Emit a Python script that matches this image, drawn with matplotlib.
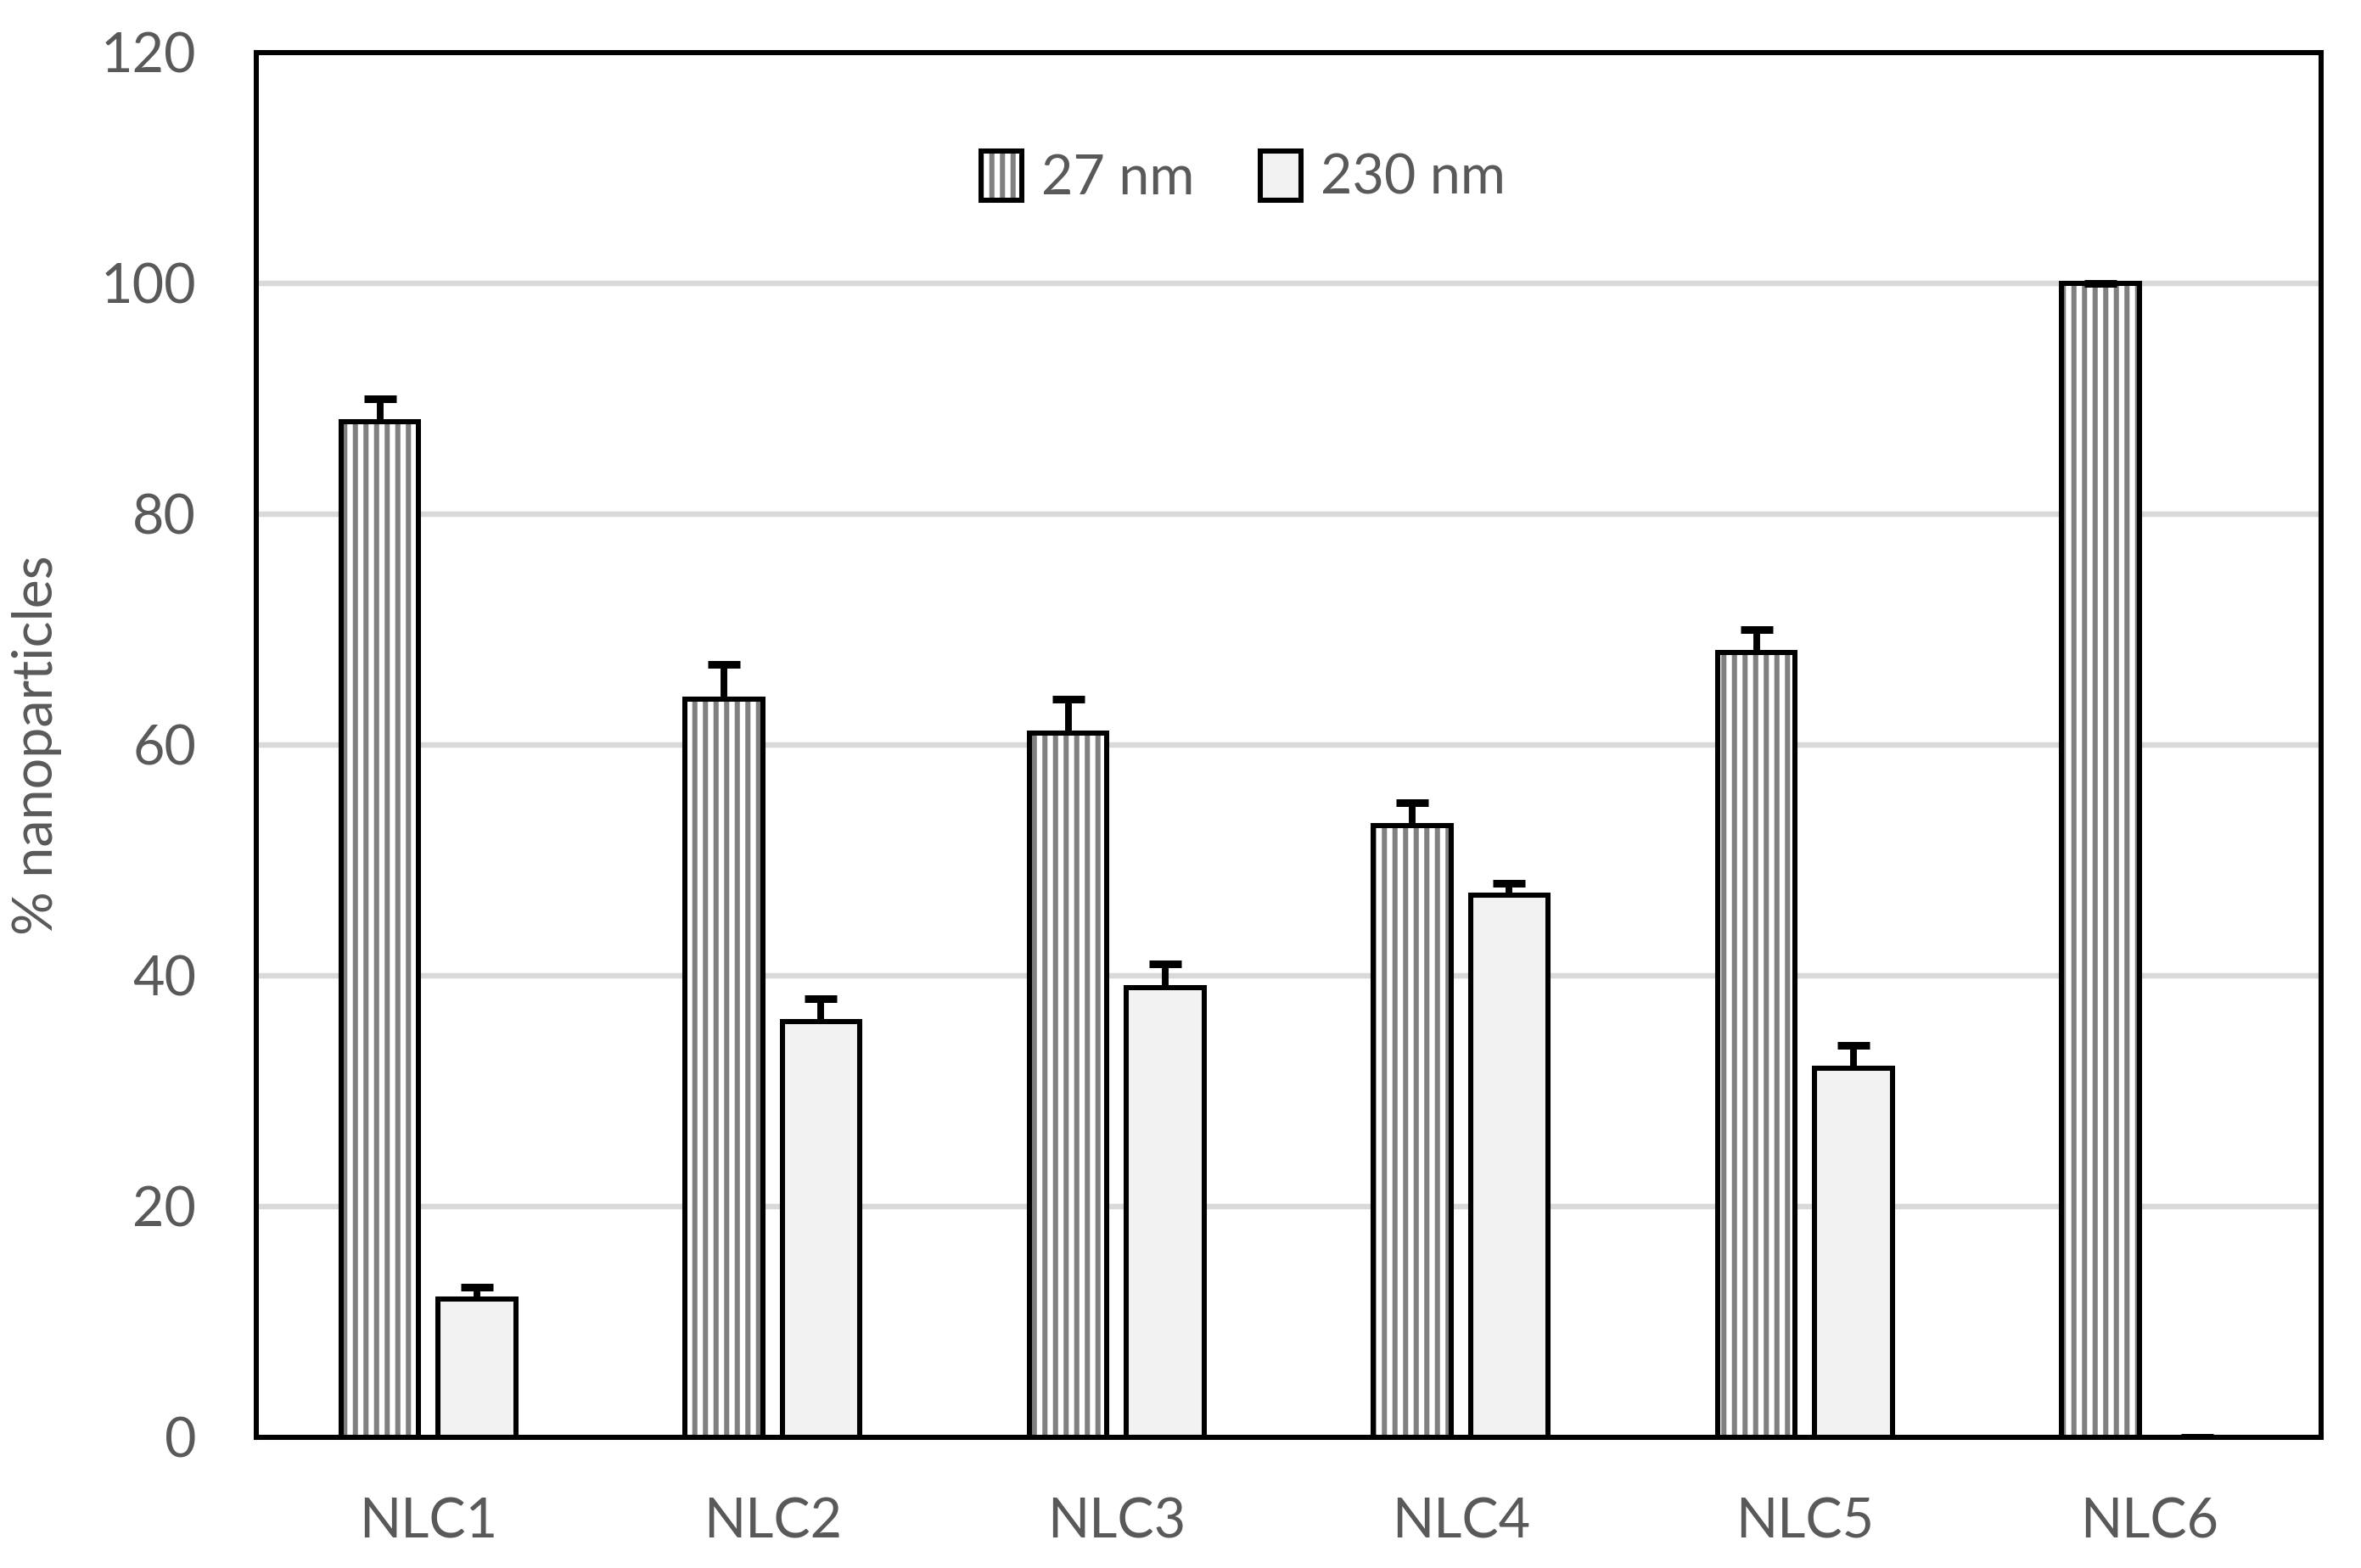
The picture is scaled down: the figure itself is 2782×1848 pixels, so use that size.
import numpy as np
import matplotlib
matplotlib.use("Agg")
import matplotlib.pyplot as plt
from matplotlib.patches import Patch
from matplotlib.legend_handler import HandlerTuple

# data
categories = ["NLC1", "NLC2", "NLC3", "NLC4", "NLC5", "NLC6"]
small_nm = [88, 64, 61, 53, 68, 100]
small_err = [2, 3, 3, 2, 2, 0]
large_nm = [12, 36, 39, 47, 32, 0]
large_err = [1, 2, 2, 1, 2, 0]
yticks = [0, 20, 40, 60, 80, 100, 120]

plt.rcParams['font.family'] = ['Lato', 'DejaVu Sans']
plt.rcParams['hatch.linewidth'] = 2.9
text_col = '#595959'

dpi = 150
fig = plt.figure(figsize=(2782 / dpi, 1848 / dpi), dpi=dpi)
ax = fig.add_axes([302 / 2782, 154 / 1848, 2433 / 2782, 1632 / 1848])

x = np.arange(len(categories))
w = 0.225
off = 0.141

# hatched bars: gray stripes first, then black outline on top
ax.bar(x - off, small_nm, w, color='white', edgecolor='#808080', hatch='||',
       linewidth=0, zorder=2)
ax.bar(x - off, small_nm, w, fill=False, edgecolor='black', linewidth=2.9, zorder=3)
ax.bar(x + off, large_nm, w, color='#f2f2f2', edgecolor='black', linewidth=2.9, zorder=3)

# plus-only error bars; hide the lower caps
for xs, ys, es in [(x - off, small_nm, small_err), (x + off, large_nm, large_err)]:
    eb = ax.errorbar(xs, ys, yerr=[np.zeros(6), es], fmt='none', ecolor='black',
                     elinewidth=3.8, capsize=9, capthick=4.3, zorder=4)
    eb[1][0].set_visible(False)

ax.set_xlim(-0.5, 5.5)
ax.set_ylim(0, 120)
ax.set_xticks(x)
ax.set_xticklabels(categories)
ax.set_yticks(yticks)
for yv in yticks[1:-1]:
    ax.axhline(yv, color='#d9d9d9', linewidth=3.1, zorder=1)

ax.tick_params(axis='both', length=0, labelsize=31, labelcolor=text_col)
ax.tick_params(axis='x', pad=34)
ax.tick_params(axis='y', pad=34)
for s in ax.spines.values():
    s.set_linewidth(2.9)
    s.set_color('black')
    s.set_zorder(5)

ax.set_ylabel('% nanoparticles', fontsize=31, color=text_col, labelpad=22)

h_small = (Patch(facecolor='white', edgecolor='#808080', hatch='||', linewidth=0),
           Patch(fill=False, edgecolor='black', linewidth=2.9))
h_large = Patch(facecolor='#f2f2f2', edgecolor='black', linewidth=2.9)
leg = ax.legend([h_small, h_large], ['27 nm', '230 nm'], loc='center',
                bbox_to_anchor=(0.478, 0.91), ncol=2, frameon=False, fontsize=31,
                handlelength=0.75, handleheight=1.0, handletextpad=0.35,
                columnspacing=1.2, handler_map={tuple: HandlerTuple(ndivide=1, pad=0)})
for t in leg.get_texts():
    t.set_color(text_col)

fig.savefig('out.png', dpi=dpi)
